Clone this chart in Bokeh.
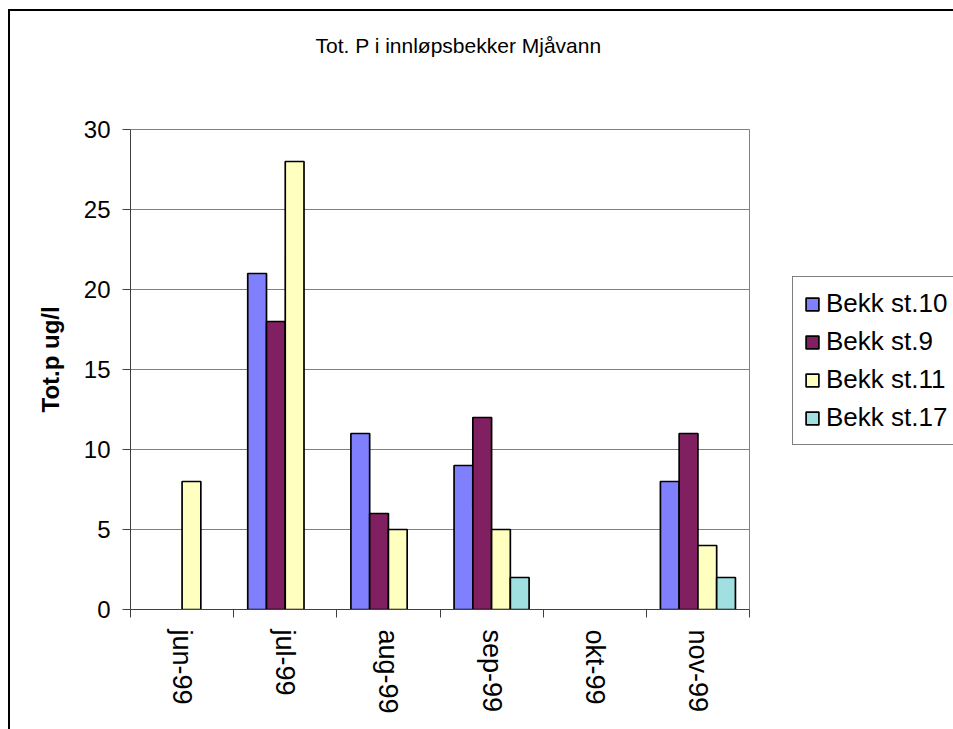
from bokeh.plotting import figure
from bokeh.models import (ColumnDataSource, FixedTicker, Legend, LegendItem, Range1d, Title, Label)
from bokeh.transform import dodge
from bokeh.embed import file_html
from bokeh.resources import INLINE
import math

months = ["jun-99", "jul-99", "aug-99", "sep-99", "okt-99", "nov-99"]
series_names = ["Bekk st.10", "Bekk st.9", "Bekk st.11", "Bekk st.17"]
st10 = [None, 21, 11, 9, None, 8]
st9 = [None, 18, 6, 12, None, 11]
st11 = [8, 28, 5, 5, None, 4]
st17 = [None, None, None, 2, None, 2]
colors = ["#8080FF", "#802060", "#FFFFC0", "#A0E0E0"]
y_ticks = [0, 5, 10, 15, 20, 25, 30]
title_text = "Tot. P i innløpsbekker Mjåvann"
y_label = "Tot.p ug/l"

FONT = "Liberation Sans"
# canvas placed at page (10, 11) by the CSS margin below; the chart border is a CSS outline
CX, CY = 10, 11
W, H = 943, 718
# plot-area box (page pixels)
PL, PR, PT, PB = 130, 749, 129, 609
n = len(months)
ymax = max(y_ticks)
px_per_x = (PR - PL) / n
px_per_y = (PB - PT) / ymax
left_b = PL - CX
bottom_b = (CY + H) - PB
x_end = (W - left_b) / px_per_x
y_end = (PB - CY) / px_per_y

def xd(px):
    return (px - PL) / px_per_x

def yd(py):
    return (PB - py) / px_per_y

p = figure(width=W, height=H, output_backend="svg", toolbar_location=None, tools="",
           x_range=Range1d(0, x_end), y_range=Range1d(0, y_end),
           min_border_left=left_b, min_border_right=0, min_border_top=0,
           min_border_bottom=bottom_b)
p.toolbar.logo = None
p.title.text = ""
p.title.visible = False
p.styles = {"margin-left": "10px", "margin-top": "11px",
            "outline": "2px solid #000000", "outline-offset": "0px"}

# gridlines and right edge of the plot area
p.segment(x0=0, x1=n, y0=y_ticks[1:], y1=y_ticks[1:], line_color="#808080", line_width=1)
p.segment(x0=[n], x1=[n], y0=[0], y1=[ymax], line_color="#808080", line_width=1)

bar_w = 1 / 5.5
offsets = [-1.5, -0.5, 0.5, 1.5]
renderers = []
for name, vals, col, off in zip(series_names, [st10, st9, st11, st17], colors, offsets):
    xs = [i + 0.5 for i, v in enumerate(vals) if v is not None]
    ys = [v for v in vals if v is not None]
    src = ColumnDataSource(dict(x=xs, top=ys))
    r = p.vbar(x=dodge("x", off * bar_w), top="top", bottom=0, width=bar_w, source=src,
               fill_color=col, line_color="black", line_width=1.7)
    renderers.append((name, r))

# axes
p.xaxis.bounds = (0, n)
p.xaxis.ticker = FixedTicker(ticks=[i + 0.5 for i in range(n)],
                             minor_ticks=list(range(n + 1)))
p.xaxis.major_label_overrides = {i + 0.5: m for i, m in enumerate(months)}
p.xaxis.major_label_orientation = -math.pi / 2
p.xaxis.major_tick_out = 0
p.xaxis.major_tick_in = 0
p.xaxis.minor_tick_out = 8
p.xaxis.minor_tick_in = 0
p.xaxis.major_label_standoff = 12
p.xaxis.major_label_text_font = FONT
p.xaxis.major_label_text_font_size = "27px"
p.xaxis.major_label_text_color = "black"
p.xaxis.axis_line_color = "#404040"
p.xaxis.minor_tick_line_color = "#404040"

p.yaxis.bounds = (0, ymax)
p.yaxis.ticker = FixedTicker(ticks=y_ticks)
p.yaxis.major_tick_out = 8
p.yaxis.major_tick_in = 0
p.yaxis.minor_tick_line_color = None
p.yaxis.major_label_standoff = 12
p.yaxis.major_label_text_font = FONT
p.yaxis.major_label_text_font_size = "24px"
p.yaxis.major_label_text_color = "black"
p.yaxis.axis_line_color = "#404040"
p.yaxis.major_tick_line_color = "#404040"

p.xgrid.visible = False
p.ygrid.visible = False
p.outline_line_color = None
p.background_fill_color = "white"
p.border_fill_color = "white"

# y-axis title, placed as a side title on the left
p.add_layout(Title(text=y_label, align="left", offset=PB - 412, standoff=34,
                   text_font=FONT, text_font_size="24px", text_font_style="bold",
                   text_color="black"), "left")

# chart title
p.add_layout(Label(x=xd(458), y=yd(45), text=title_text, text_align="center",
                   text_baseline="middle", text_font=FONT, text_font_size="21px",
                   text_color="black"))

legend = Legend(items=[LegendItem(label=nm, renderers=[r]) for nm, r in renderers],
                location=(792 - PL, PB - 445), orientation="vertical",
                glyph_width=16, glyph_height=16, label_standoff=6,
                label_height=31, spacing=7, padding=11, margin=0,
                label_text_font=FONT, label_text_font_size="26px", label_text_color="black",
                border_line_color="black", border_line_width=1,
                background_fill_color="white", background_fill_alpha=1)
p.add_layout(legend, "center")

open("out.html", "w").write(file_html(p, INLINE))
